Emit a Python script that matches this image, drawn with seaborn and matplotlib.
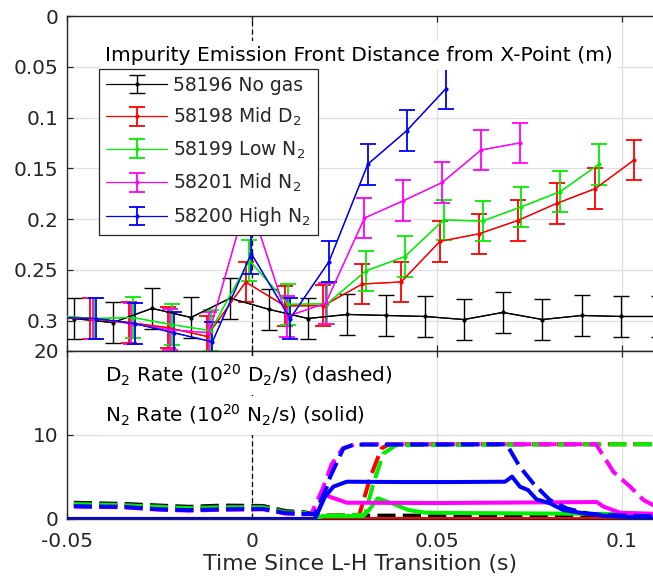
import matplotlib
matplotlib.use("Agg")
import matplotlib.pyplot as plt
import seaborn as sns

# ---------------- top panel: emission front distance (m) ----------------
t_black = [-0.0586, -0.0481, -0.0376, -0.0270, -0.0165, -0.0059, 0.0046, 0.0151,
           0.0258, 0.0363, 0.0468, 0.0573, 0.0678, 0.0785, 0.0891, 0.0996, 0.1101]
d_black = [0.297, 0.298, 0.302, 0.288, 0.297, 0.278, 0.289, 0.298,
           0.294, 0.295, 0.296, 0.299, 0.292, 0.299, 0.295, 0.296, 0.296]

t_red = [-0.0542, -0.0437, -0.0332, -0.0227, -0.0122, -0.0017, 0.0088, 0.0193,
         0.0298, 0.0403, 0.0508, 0.0613, 0.0718, 0.0823, 0.0928, 0.1033]
d_red = [0.297, 0.298, 0.302, 0.307, 0.3156, 0.262, 0.2855, 0.2854,
         0.264, 0.262, 0.222, 0.2146, 0.2015, 0.1847, 0.170, 0.1417]

t_green = [-0.0532, -0.0427, -0.0322, -0.0217, -0.0112, -0.0007, 0.0098, 0.0203,
           0.0308, 0.0413, 0.0518, 0.0623, 0.0728, 0.0833, 0.0938]
d_green = [0.295, 0.298, 0.297, 0.304, 0.310, 0.241, 0.284, 0.2835,
           0.251, 0.237, 0.201, 0.202, 0.188, 0.173, 0.146]

t_mag = [-0.0536, -0.0431, -0.0326, -0.0221, -0.0116, -0.0011, 0.0094, 0.0199,
         0.0304, 0.0409, 0.0514, 0.0619, 0.0724]
d_mag = [0.297, 0.298, 0.303, 0.309, 0.312, 0.178, 0.296, 0.283,
         0.199, 0.182, 0.164, 0.132, 0.125]

t_blue = [-0.0527, -0.0422, -0.0317, -0.0212, -0.0107, -0.0002, 0.0103, 0.0208,
          0.0313, 0.0418, 0.0523]
d_blue = [0.297, 0.298, 0.303, 0.312, 0.321, 0.234, 0.298, 0.242,
          0.146, 0.113, 0.072]

err = 0.02

labels = ["58196 No gas", "58198 Mid D$_2$", "58199 Low N$_2$",
          "58201 Mid N$_2$", "58200 High N$_2$"]
colors = ["#000000", "#ff0000", "#00ee00", "#ff00ff", "#0000ff"]

# ---------------- bottom panel: gas rates (1e20 /s) ----------------
pre_t = [-0.055, -0.045, -0.035, -0.025, -0.017, -0.008, 0.003, 0.009, 0.014]

d2_t_black = pre_t + [0.020, 0.110]
d2_black = [2.0, 1.9, 1.8, 1.6, 1.45, 1.6, 1.55, 0.95, 0.8, 0.4, 0.4]

d2_t_red = pre_t + [0.020, 0.029, 0.032, 0.035, 0.037, 0.110]
d2_red = [1.7, 1.6, 1.55, 1.3, 1.15, 1.3, 1.3, 0.75, 0.65, 0.4, 0.5, 5.0, 8.4, 8.9, 8.9]

d2_t_green = pre_t + [0.020, 0.0305, 0.0328, 0.0355, 0.039, 0.110]
d2_green = [1.85, 1.75, 1.65, 1.45, 1.3, 1.4, 1.4, 0.8, 0.7, 0.4, 0.5, 4.2, 7.8, 8.8, 8.9]

d2_t_mag = pre_t + [0.016, 0.019, 0.0215, 0.0245, 0.028, 0.093, 0.0977, 0.1022, 0.1058, 0.110]
d2_mag = [1.5, 1.45, 1.4, 1.1, 1.0, 1.1, 1.15, 0.65, 0.55, 0.6, 3.5, 6.5, 8.4, 8.9,
          8.9, 5.6, 3.85, 2.26, 1.3]

d2_t_blue = pre_t + [0.017, 0.0202, 0.0211, 0.0247, 0.0274, 0.0688, 0.0724, 0.076,
                     0.0805, 0.085, 0.0905, 0.095, 0.110]
d2_blue = [1.6, 1.5, 1.45, 1.15, 1.05, 1.15, 1.2, 0.7, 0.6, 0.6, 3.8, 5.0, 8.4, 8.85,
           8.9, 6.2, 4.25, 2.26, 1.27, 0.67, 0.48, 0.3]

n2_t_black = [-0.055, 0.110]
n2_black = [0.0, 0.0]

n2_t_red = [-0.055, 0.110]
n2_red = [0.0, 0.0]

n2_t_green = [-0.055, 0.017, 0.019, 0.030, 0.0315, 0.034, 0.0378, 0.0423, 0.0468,
              0.060, 0.080, 0.100, 0.110]
n2_green = [0.0, 0.0, 0.35, 0.35, 1.0, 2.46, 1.87, 1.07, 0.75, 0.7, 0.65, 0.6, 0.6]

n2_t_mag = [-0.055, 0.017, 0.0197, 0.021, 0.0256, 0.050, 0.0932, 0.095, 0.0995, 0.110]
n2_mag = [0.0, 0.0, 2.86, 2.65, 1.94, 1.9, 2.02, 1.47, 0.75, 0.6]

n2_t_blue = [-0.055, 0.017, 0.0197, 0.022, 0.0256, 0.040, 0.055, 0.0684, 0.0703,
             0.0724, 0.0746, 0.0769, 0.0805, 0.0841, 0.0886, 0.095, 0.110]
n2_blue = [0.0, 0.0, 2.65, 3.85, 4.44, 4.4, 4.4, 4.44, 5.04, 3.85, 3.45, 2.34, 1.87,
           1.07, 0.75, 0.4, 0.05]

top_yticks = [0, 0.05, 0.1, 0.15, 0.2, 0.25, 0.3]
top_yticklabels = ["0", "0.05", "0.1", "0.15", "0.2", "0.25", "0.3"]
bot_yticks = [0, 10, 20]
xticks = [-0.05, 0, 0.05, 0.1]
xticklabels = ["-0.05", "0", "0.05", "0.1"]

# ---------------- style ----------------
sns.set_theme(style="white")
plt.rcParams["font.family"] = ["DejaVu Sans"]
plt.rcParams["mathtext.fontset"] = "dejavusans"
plt.rcParams["axes.unicode_minus"] = False

fig = plt.figure(figsize=(6.53, 5.81), dpi=100)
ax1 = fig.add_axes([67 / 653, 1 - 351 / 581, 586 / 653, 335 / 581])
ax2 = fig.add_axes([67 / 653, 1 - 519 / 581, 586 / 653, 168 / 581], sharex=ax1)

spine_c = "#262626"
for ax in (ax1, ax2):
    ax.set_facecolor("white")
    for s in ax.spines.values():
        s.set_color(spine_c)
        s.set_linewidth(1.0)
    ax.spines["right"].set_visible(False)
    ax.grid(True, color="#dedede", linewidth=0.9)
    ax.set_axisbelow(True)
    ax.tick_params(direction="in", length=4, width=0.9, color=spine_c,
                   labelcolor=spine_c, labelsize=14.4, top=True, bottom=True,
                   left=True, right=False, pad=6)
    ax.tick_params(axis="x", pad=9.5)

# ---- top panel ----
series = [(t_black, d_black), (t_red, d_red), (t_green, d_green),
          (t_mag, d_mag), (t_blue, d_blue)]
handles = []
for (t, d), c, lab in zip(series, colors, labels):
    sns.lineplot(x=t, y=d, ax=ax1, color=c, lw=0.9, sort=False, estimator=None,
                 legend=False, zorder=3)
    h = ax1.errorbar(t, d, yerr=err, fmt=".", color=c, ms=4, capsize=5.5,
                     elinewidth=1.0 if c == "#000000" else 1.3,
                     capthick=1.0 if c == "#000000" else 1.3, label=lab,
                     linestyle="-", lw=0.9, zorder=3)
    handles.append(h)

ax1.axvline(0, color="black", lw=0.9, dashes=(4, 2.5), zorder=2.5)
ax1.set_xlim(-0.05, (653 - 252) / 3700)
ax1.set_ylim(0.33, 0)
ax1.set_yticks(top_yticks)
ax1.set_yticklabels(top_yticklabels)
ax1.tick_params(axis="x", labelbottom=False)
ax1.set_xlabel("")
ax1.set_ylabel("")

ax1.text(0.0648, 0.8657, "Impurity Emission Front Distance from X-Point (m)",
         transform=ax1.transAxes, fontsize=14.6, color="black", va="baseline",
         ha="left", zorder=4,
         bbox=dict(facecolor="white", edgecolor="none", pad=3.5))

leg = ax1.legend(handles, labels, loc="upper left",
                 bbox_to_anchor=(32 / 586, 1 - 53 / 335), borderaxespad=0,
                 fontsize=13.5, frameon=True, fancybox=False, framealpha=1,
                 edgecolor=spine_c, handlelength=3.3, handletextpad=0.3,
                 labelspacing=0.6, borderpad=0.35)
leg.get_frame().set_linewidth(0.9)
leg.set_zorder(6)

# ---- bottom panel ----
d2_series = [(d2_t_black, d2_black), (d2_t_red, d2_red), (d2_t_green, d2_green),
             (d2_t_mag, d2_mag), (d2_t_blue, d2_blue)]
n2_series = [(n2_t_black, n2_black), (n2_t_red, n2_red), (n2_t_green, n2_green),
             (n2_t_mag, n2_mag), (n2_t_blue, n2_blue)]
for (td, vd), (tn, vn), c in zip(d2_series, n2_series, colors):
    sns.lineplot(x=td, y=vd, ax=ax2, color=c, lw=2.9, sort=False, estimator=None,
                 legend=False, linestyle=(0, (4.5, 1.8)), dash_capstyle="butt",
                 zorder=3)
    sns.lineplot(x=tn, y=vn, ax=ax2, color=c, lw=2.9, sort=False, estimator=None,
                 legend=False, zorder=3)

ax2.axvline(0, color="black", lw=0.9, dashes=(4, 2.5), zorder=2.5)
ax2.set_ylim(0, 20)
ax2.set_yticks(bot_yticks)
ax2.set_xticks(xticks)
ax2.set_xticklabels(xticklabels)
ax2.set_xlim(-0.05, (653 - 252) / 3700)
ax2.set_ylabel("")
ax2.set_xlabel("Time Since L-H Transition (s)", fontsize=15.8, color=spine_c,
               labelpad=2)

blend = ax2.get_yaxis_transform()
ax2.text(0.0648, 16.2, "D$_2$ Rate (10$^{20}$ D$_2$/s) (dashed)",
         transform=blend, fontsize=14.4, color="black", va="baseline",
         ha="left", zorder=4,
         bbox=dict(facecolor="white", edgecolor="none", pad=5))
ax2.text(0.0648, 11.43, "N$_2$ Rate (10$^{20}$ N$_2$/s) (solid)",
         transform=blend, fontsize=14.4, color="black", va="baseline",
         ha="left", zorder=4,
         bbox=dict(facecolor="white", edgecolor="none", pad=5))

fig.savefig("out.png", dpi=100, facecolor="white")
